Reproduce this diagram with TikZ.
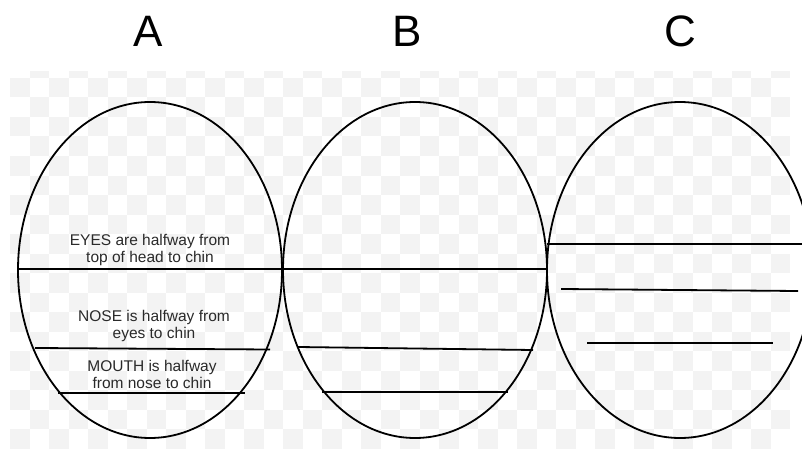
\documentclass[tikz,border=0pt]{standalone}
\usepackage{fontspec}
\setmainfont{Liberation Sans}
\definecolor{checkgray}{HTML}{F3F3F3}
\definecolor{txt}{HTML}{2A2A2A}
\tikzset{
  head/.style={draw=black, line width=1.8pt},
  guide/.style={draw=black, line width=1.8pt},
  note/.style={text=txt, align=center, inner sep=0pt, font=\fontsize{15.5}{17}\selectfont},
  letter/.style={text=black, inner sep=0pt, font=\fontsize{44}{44}\selectfont}
}
\begin{document}
\begin{tikzpicture}[x=1pt,y=-1pt]
\useasboundingbox (0,0) rectangle (802,449);
\clip (0,0) rectangle (802,449);
\fill[white] (0,0) rectangle (802,449);
% faint checkerboard background
\begin{scope}
\clip (10,72) rectangle (790,449);
\foreach \i in {0,...,39}{\foreach \j in {-1,...,18}{
  \pgfmathtruncatemacro\p{mod(\i+\j+2,2)}
  \ifnum\p=0 \fill[checkgray] ({10+19.5*\i},{78+19.5*\j}) rectangle ++(19.5,19.5);\fi
}}
\end{scope}
% labels
\node[letter] (la) at (148,31) {A};
\node[letter] (lb) at (407,31) {B};
\node[letter] (lc) at (680,31) {C};
% heads
\draw[head] (150,270) ellipse [x radius=132pt, y radius=168pt];
\draw[head] (415,270) ellipse [x radius=132pt, y radius=168pt];
\draw[head] (680,270) ellipse [x radius=133pt, y radius=168pt];
% A and B eye line
\draw[guide] (18,269) -- (547,269);
% A lines
\draw[guide] (35,348) -- (270,349.5);
\draw[guide] (58,393) -- (245,393);
% B lines
\draw[guide] (298,347) -- (533,350);
\draw[guide] (322,392) -- (508,392);
% C lines
\draw[guide] (547,244) -- (802,244);
\draw[guide] (561,289) -- (798,291);
\draw[guide] (587,343) -- (773,343);
% texts
\node[note] (eyes) at (150,249.5) {EYES are halfway from\\top of head to chin};
\node[note] (nose) at (154,326) {NOSE is halfway from\\eyes to chin};
\node[note] (mouth) at (152,374.5) {MOUTH is halfway\\from nose to chin};
\end{tikzpicture}
\end{document}
